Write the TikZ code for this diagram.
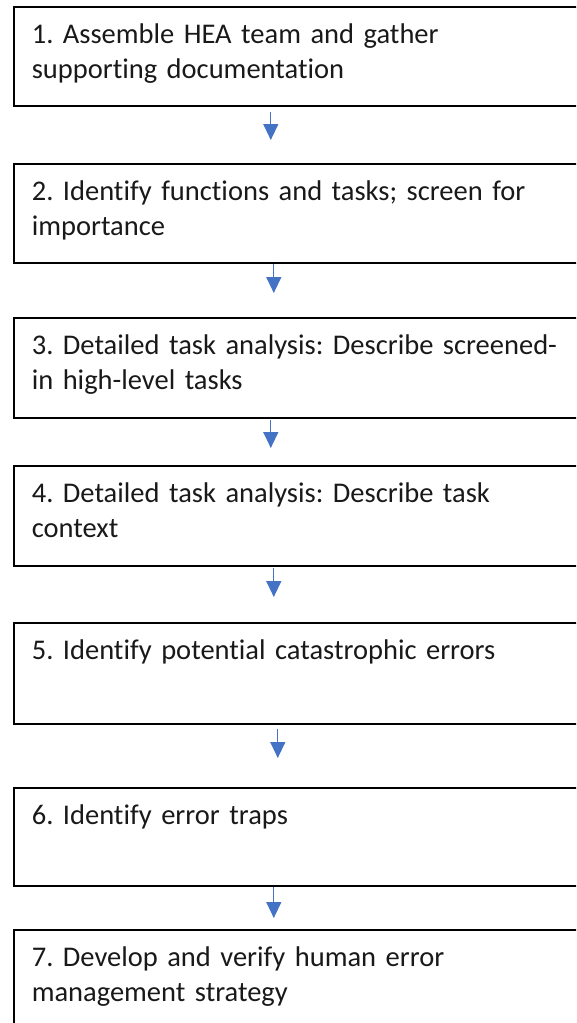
\documentclass[tikz,border=0pt]{standalone}
\usepackage{fontspec}
\setmainfont{Carlito}[Ligatures=NoCommon]
\usetikzlibrary{arrows.meta}
\definecolor{flowblue}{HTML}{4472C4}
\frenchspacing
\begin{document}
\begin{tikzpicture}[x=1pt,y=1pt,
		stepbox/.style={draw,line width=1.6pt,anchor=north west,text width=534pt,
			align=left,inner xsep=18pt,inner ysep=0pt,text height=37pt,text=black!90,
			font=\fontsize{28.5}{34.5}\selectfont},
		flow/.style={-{Triangle[width=15pt,length=16pt]},draw=flowblue,line width=1.3pt}]
		\useasboundingbox (0,0) rectangle (576,-1023);
		\clip (0,0) rectangle (576,-1023);
		\node[stepbox,text depth=62pt] (s1) at (13,-6) {1. Assemble HEA team and gather\\supporting documentation};
		\node[stepbox,text depth=62pt] (s2) at (13,-163) {2. Identify functions and tasks; screen for\\importance};
		\node[stepbox,text depth=63pt] (s3) at (13,-317) {3. Detailed task analysis: Describe screened-\\in high-level tasks};
		\node[stepbox,text depth=63pt] (s4) at (13,-465) {4. Detailed task analysis: Describe task\\context};
		\node[stepbox,text depth=64pt] (s5) at (13,-622) {5. Identify potential catastrophic errors};
		\node[stepbox,text depth=61pt] (s6) at (13,-787) {6. Identify error traps};
		\node[stepbox,text depth=64pt] (s7) at (13,-929) {7. Develop and verify human error\\management strategy};
		% arrows between the steps
		\foreach \a/\b/\dx/\pre/\post in {1/2/-28/5/23,2/3/-25/0/24,3/4/-28/1/17,4/5/-25/1/25,5/6/-21/4/29,6/7/-25/0/11}
			\draw[flow,shorten <=\pre pt,shorten >=\post pt] ([xshift=\dx pt]s\a.south) -- ([xshift=\dx pt]s\b.north);
	\end{tikzpicture}
\end{document}
